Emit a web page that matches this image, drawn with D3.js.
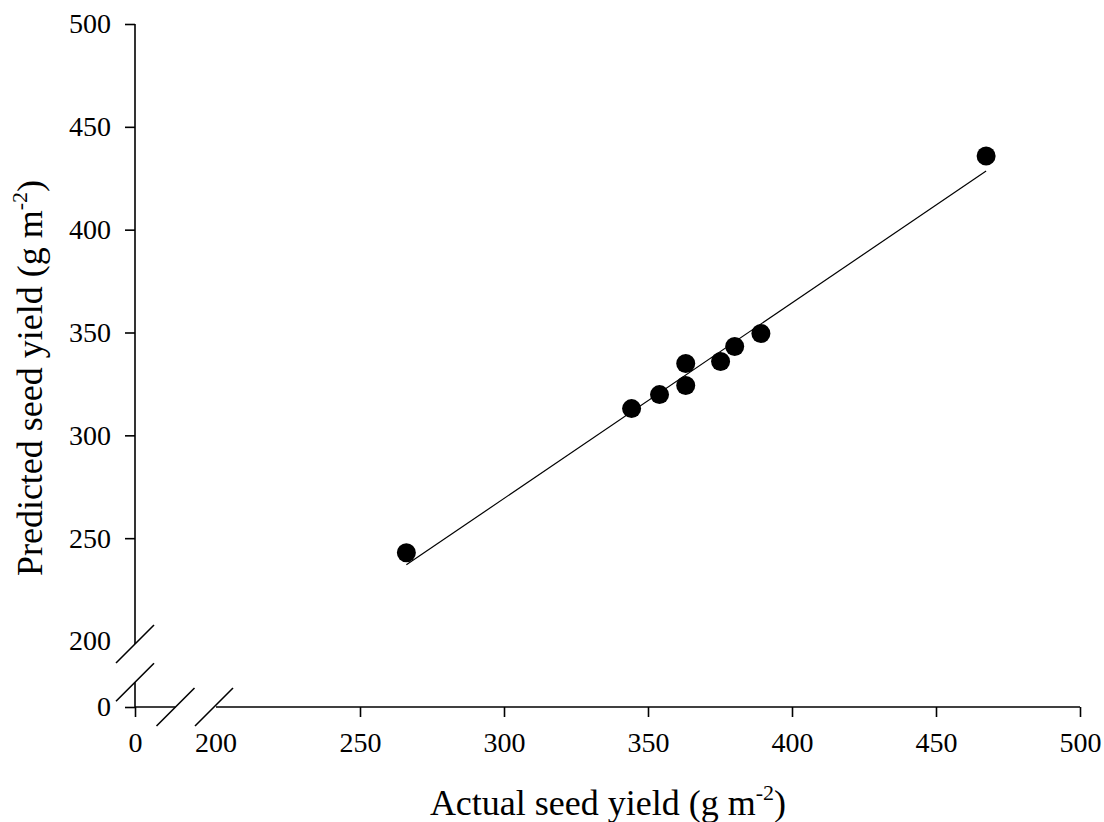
<!DOCTYPE html>
<html>
<head>
<meta charset="utf-8">
<script src="https://cdn.jsdelivr.net/npm/d3@7"></script>
<style>
  body { margin: 0; background: #fff; }
  svg { display: block; font-family: "Liberation Serif", "Times New Roman", serif; }
</style>
</head>
<body>
<div id="chart"></div>
<script>
// observed vs predicted seed yield (g m-2)
const actual    = [266.1, 344.3, 354.0, 363.1, 363.1, 375.2, 380.1, 389.2, 467.4];
const predicted = [242.9, 313.0, 319.8, 324.2, 334.9, 335.9, 343.2, 349.5, 435.8];

// fitted line: predicted = a + b * actual
const fitA = -16.0, fitB = 0.951;
const fitRange = [266.1, 467.4];

const xTicks = [0, 250, 300, 350, 400, 450, 500];
const yTicks = [0, 250, 300, 350, 400, 450, 500];
const xBreakLabel = 200, yBreakLabel = 200;

const width = 1104, height = 822;
const tickFont = 28, titleFont = 36;

// broken axes: 0..200 squeezed, 200..500 full
const x = d3.scaleLinear().domain([0, 200, 500]).range([135, 216, 1080]);
const y = d3.scaleLinear().domain([0, 200, 500]).range([707, 641, 24]);

const svg = d3.select("#chart").append("svg")
    .attr("width", width).attr("height", height);

const axisG = svg.append("g").attr("stroke", "#000").attr("stroke-width", 1.6).attr("fill", "none");

// x axis line pieces
axisG.append("line").attr("x1", x(0)).attr("x2", x(100)).attr("y1", y(0)).attr("y2", y(0));
axisG.append("line").attr("x1", x(200)).attr("x2", x(500)).attr("y1", y(0)).attr("y2", y(0));
// y axis line pieces
axisG.append("line").attr("x1", x(0)).attr("x2", x(0)).attr("y1", y(0)).attr("y2", y(75));
axisG.append("line").attr("x1", x(0)).attr("x2", x(0)).attr("y1", y(200) + 3).attr("y2", y(500));

// break slashes
const slash = (cx, cy) => axisG.append("line")
    .attr("x1", cx - 19).attr("y1", cy + 19).attr("x2", cx + 19).attr("y2", cy - 19);
slash(x(100), y(0));
slash(x(200) - 2, y(0));
slash(x(0), y(200) + 3);
slash(x(0), y(75));

// x ticks + labels
const xAxis = svg.append("g").attr("transform", `translate(0,${y(0)})`)
    .call(d3.axisBottom(x).tickValues(xTicks).tickSize(10).tickPadding(15).tickFormat(d3.format("d")));
xAxis.select(".domain").remove();
xAxis.selectAll(".tick line").attr("stroke-width", 1.6);
xAxis.append("text").attr("x", x(xBreakLabel)).attr("y", 10 + 15).attr("dy", "0.71em")
    .attr("fill", "#000").attr("text-anchor", "middle").text(xBreakLabel);
xAxis.selectAll("text").attr("font-size", tickFont).attr("font-family", "Liberation Serif");

// y ticks + labels
const yAxis = svg.append("g").attr("transform", `translate(${x(0)},0)`)
    .call(d3.axisLeft(y).tickValues(yTicks).tickSize(10).tickPadding(14).tickFormat(d3.format("d")));
yAxis.select(".domain").remove();
yAxis.selectAll(".tick line").attr("stroke-width", 1.6);
yAxis.append("text").attr("x", -24).attr("y", y(yBreakLabel)).attr("dy", "0.32em")
    .attr("fill", "#000").attr("text-anchor", "end").text(yBreakLabel);
yAxis.selectAll("text").attr("font-size", tickFont).attr("font-family", "Liberation Serif");

// regression line
svg.append("line")
    .attr("x1", x(fitRange[0])).attr("y1", y(fitA + fitB * fitRange[0]))
    .attr("x2", x(fitRange[1])).attr("y2", y(fitA + fitB * fitRange[1]))
    .attr("stroke", "#000").attr("stroke-width", 1.2);

// points
svg.append("g").selectAll("circle").data(actual).join("circle")
    .attr("cx", d => x(d)).attr("cy", (d, i) => y(predicted[i]))
    .attr("r", 9.5).attr("fill", "#000");

// axis titles
const xt = svg.append("text").attr("x", 608).attr("y", 815).attr("text-anchor", "middle")
    .attr("font-size", titleFont).attr("fill", "#000");
xt.append("tspan").text("Actual seed yield (g m");
xt.append("tspan").attr("font-size", 22).attr("dy", -15).text("-2");
xt.append("tspan").attr("dy", 15).text(")");

const yt = svg.append("text").attr("transform", "translate(42,378) rotate(-90)").attr("text-anchor", "middle")
    .attr("font-size", titleFont).attr("fill", "#000");
yt.append("tspan").text("Predicted seed yield (g m");
yt.append("tspan").attr("font-size", 22).attr("dy", -15).text("-2");
yt.append("tspan").attr("dy", 15).text(")");
</script>
</body>
</html>
